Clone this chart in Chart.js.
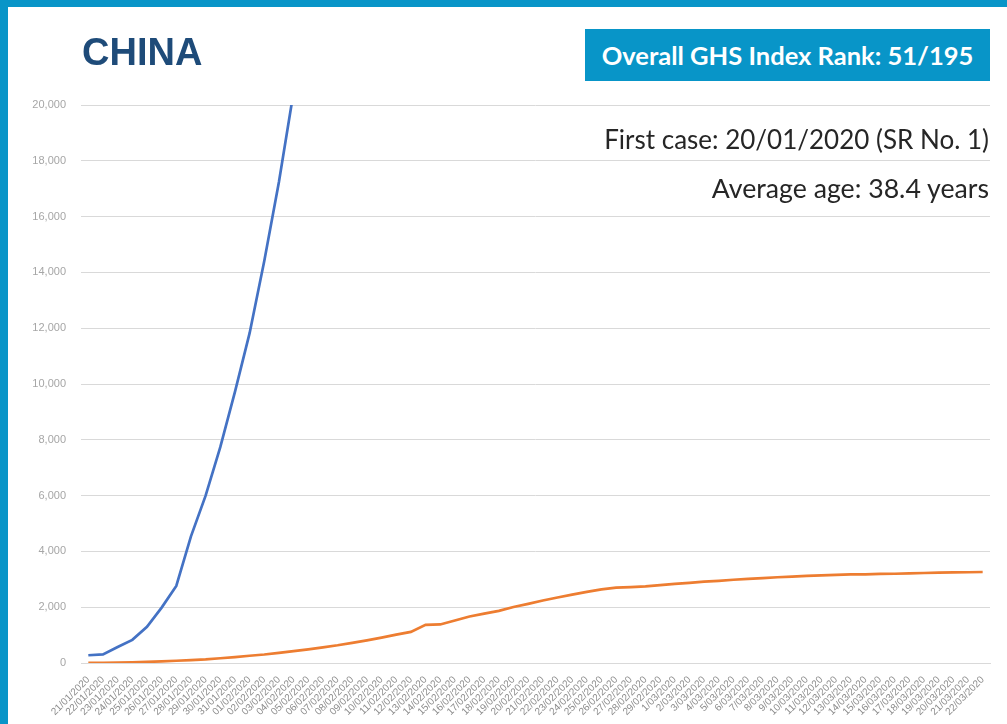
<!DOCTYPE html>
<html>
<head>
<meta charset="utf-8">
<script src="https://cdn.jsdelivr.net/npm/chart.js@4/dist/chart.umd.min.js"></script>
<style>
  html, body { margin: 0; padding: 0; background: #fff; }
  .page { position: relative; width: 1007px; height: 724px; overflow: hidden; background: #fff; }
  .frame-top { position: absolute; left: 0; top: 0; width: 1007px; height: 7px; background: #0895c8; }
  .frame-left { position: absolute; left: 0; top: 0; width: 8px; height: 724px; background: #0895c8; }
  #myChart { position: absolute; left: 0; top: 0; }
  .title { position: absolute; left: 82px; top: 30px; font: bold 38px "Liberation Sans", Arial, sans-serif; color: #1e4b79; line-height: 44px; }
  .badge { position: absolute; left: 585px; top: 29px; width: 405px; height: 52px; background: #0895c8; color: #fff;
           font: bold 25.5px Lato, sans-serif; line-height: 52px; text-align: center; }
  .info { position: absolute; right: 18px; color: #262626; font: 400 26px Lato, sans-serif; line-height: 30px; white-space: nowrap; }
  .info1 { top: 124px; }
  .info2 { top: 173px; font-size: 26.7px; }
</style>
</head>
<body>
<div class="page">
  <canvas id="myChart" width="1007" height="724"></canvas>
  <div class="frame-top"></div>
  <div class="frame-left"></div>
  <div class="title">CHINA</div>
  <div class="badge">Overall GHS Index Rank: 51/195</div>
  <div class="info info1">First case: 20/01/2020 (SR No. 1)</div>
  <div class="info info2">Average age: 38.4 years</div>
</div>
<script>
var dates = [
  "21/01/2020","22/01/2020","23/01/2020","24/01/2020","25/01/2020","26/01/2020","27/01/2020","28/01/2020",
  "29/01/2020","30/01/2020","31/01/2020","01/02/2020","02/02/2020","03/02/2020","04/02/2020","05/02/2020",
  "06/02/2020","07/02/2020","08/02/2020","09/02/2020","10/02/2020","11/02/2020","12/02/2020","13/02/2020",
  "14/02/2020","15/02/2020","16/02/2020","17/02/2020","18/02/2020","19/02/2020","20/02/2020","21/02/2020",
  "22/02/2020","23/02/2020","24/02/2020","25/02/2020","26/02/2020","27/02/2020","28/02/2020","29/02/2020",
  "1/03/2020","2/03/2020","3/03/2020","4/03/2020","5/03/2020","6/03/2020","7/03/2020","8/03/2020",
  "9/03/2020","10/03/2020","11/03/2020","12/03/2020","13/03/2020","14/03/2020","15/03/2020","16/03/2020",
  "17/03/2020","18/03/2020","19/03/2020","20/03/2020","21/03/2020","22/03/2020"
];

// confirmed cases (goes off the top of the chart after 03/02)
var cases = [278, 309, 571, 830, 1297, 1985, 2761, 4537, 5997, 7736, 9720, 11821, 14411, 17238, 20471];

var deaths = [
  6, 6, 17, 25, 41, 56, 80, 106, 132, 170, 213, 259, 304, 361, 425, 490,
  563, 636, 722, 811, 908, 1016, 1113, 1368, 1381, 1524, 1666, 1772, 1870, 2006, 2121, 2239,
  2348, 2450, 2550, 2640, 2700, 2718, 2747, 2791, 2838, 2873, 2915, 2946, 2984, 3015, 3045, 3073,
  3099, 3123, 3140, 3162, 3173, 3180, 3194, 3199, 3213, 3226, 3237, 3245, 3253, 3261
];

var yTicks = [0, 2000, 4000, 6000, 8000, 10000, 12000, 14000, 16000, 18000, 20000];

var ctx = document.getElementById('myChart').getContext('2d');
var myChart = new Chart(ctx, {
  type: 'line',
  data: {
    labels: dates,
    datasets: [{
      label: 'Cases',
      data: cases,
      borderColor: '#4472c4',
      borderWidth: 2.7,
      pointRadius: 0,
      tension: 0
    }, {
      label: 'Deaths',
      data: deaths,
      borderColor: '#ed7d31',
      borderWidth: 2.7,
      pointRadius: 0,
      tension: 0
    }]
  },
  options: {
    responsive: false,
    animation: false,
    layout: { padding: { left: 0, top: 105, right: 17, bottom: 0 } },
    plugins: {
      legend: { display: false },
      tooltip: { enabled: false }
    },
    scales: {
      x: {
        offset: true,
        grid: { display: false },
        border: { color: '#d9d9d9', width: 1 },
        ticks: {
          autoSkip: false,
          minRotation: 45,
          maxRotation: 45,
          padding: 3,
          color: '#8c8c8c',
          font: { family: 'Liberation Sans', size: 10 }
        },
        afterFit: function (scale) { scale.height = 61; }
      },
      y: {
        min: 0,
        max: 20000,
        afterBuildTicks: function (scale) {
          scale.ticks = yTicks.map(function (v) { return { value: v }; });
        },
        grid: { color: '#d9d9d9', drawTicks: false },
        border: { display: false },
        ticks: {
          padding: 15,
          color: '#a6a6a6',
          font: { family: 'Liberation Sans', size: 11 },
          callback: function (v) { return v.toLocaleString('en-US'); }
        },
        afterFit: function (scale) { scale.width = 81; }
      }
    }
  }
});
</script>
</body>
</html>
